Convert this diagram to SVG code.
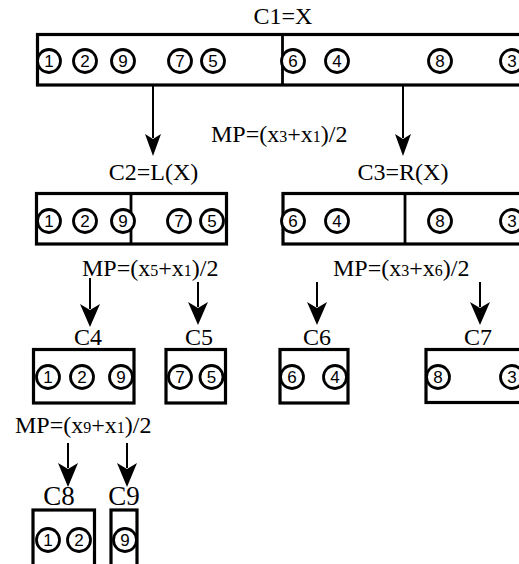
<svg xmlns="http://www.w3.org/2000/svg" width="519" height="564" viewBox="0 0 519 564">
<defs>
<style>
.box{fill:#fff;stroke:#000;stroke-width:3.2}
.div{stroke:#000;stroke-width:2.8}
.c{fill:#fff;stroke:#000;stroke-width:2.8}
.n{font-family:"Liberation Sans","DejaVu Sans",sans-serif;font-size:17px;text-anchor:middle}
.t{font-family:"Liberation Serif","Times New Roman",serif;font-size:24px;fill:#000}
.b{font-size:27px}
.m{text-anchor:middle}
.s{font-size:16px}
.ar{stroke:#000;stroke-width:2;fill:none}
</style>
</defs>
<rect width="519" height="564" fill="#fff"/>

<g id="connectors">
<line class="ar" x1="153" y1="86" x2="153" y2="138"/><path d="M145,134 L153,139 L161,134 L153,156 Z"/>
<line class="ar" x1="403" y1="86" x2="403" y2="138"/><path d="M395,134 L403,139 L411,134 L403,156 Z"/>
<line class="ar" x1="90" y1="278" x2="90" y2="309"/><path d="M80,304 L90,310 L100,304 L90,327 Z"/>
<line class="ar" x1="198" y1="282" x2="198" y2="307"/><path d="M188,302 L198,308 L208,302 L198,325 Z"/>
<line class="ar" x1="317" y1="282" x2="317" y2="307"/><path d="M307,302 L317,308 L327,302 L317,325 Z"/>
<line class="ar" x1="480" y1="282" x2="480" y2="307"/><path d="M470,302 L480,308 L490,302 L480,325 Z"/>
<line class="ar" x1="68" y1="443" x2="68" y2="468"/><path d="M58,463 L68,469 L78,463 L68,487 Z"/>
<line class="ar" x1="127" y1="443" x2="127" y2="468"/><path d="M117,463 L127,469 L137,463 L127,487 Z"/>
</g>

<g id="labels">
<text class="t m" x="283" y="24">C1=X</text>
<text class="t" x="211" y="142">MP=(x<tspan class="s">3</tspan>+x<tspan class="s">1</tspan>)/2</text>
<text class="t m" x="153.5" y="180">C2=L(X)</text>
<text class="t m" x="403" y="180">C3=R(X)</text>
<text class="t" x="82" y="276">MP=(x<tspan class="s">5</tspan>+x<tspan class="s">1</tspan>)/2</text>
<text class="t" x="333" y="276">MP=(x<tspan class="s">3</tspan>+x<tspan class="s">6</tspan>)/2</text>
<text class="t" x="15" y="433">MP=(x<tspan class="s">9</tspan>+x<tspan class="s">1</tspan>)/2</text>
</g>

<g id="C1">
<rect class="box" x="37.5" y="34.5" width="500" height="50.5"/>
<line class="div" x1="282.5" y1="34.5" x2="282.5" y2="85"/>
<circle class="c" cx="49" cy="61" r="11.5"/><text class="n" x="49" y="67">1</text>
<circle class="c" cx="85" cy="61" r="11.5"/><text class="n" x="85" y="67">2</text>
<circle class="c" cx="123" cy="61" r="11.5"/><text class="n" x="123" y="67">9</text>
<circle class="c" cx="180" cy="61" r="11.5"/><text class="n" x="180" y="67">7</text>
<circle class="c" cx="213" cy="61" r="11.5"/><text class="n" x="213" y="67">5</text>
<circle class="c" cx="293" cy="61" r="11.5"/><text class="n" x="293" y="67">6</text>
<circle class="c" cx="337" cy="61" r="11.5"/><text class="n" x="337" y="67">4</text>
<circle class="c" cx="440" cy="61" r="11.5"/><text class="n" x="440" y="67">8</text>
<circle class="c" cx="512" cy="61" r="11.5"/><text class="n" x="512" y="67">3</text>
</g>

<g id="C2">
<rect class="box" x="36.5" y="193.5" width="190" height="50.5"/>
<line class="div" x1="131" y1="193.5" x2="131" y2="244"/>
<circle class="c" cx="49" cy="221" r="11.5"/><text class="n" x="49" y="227">1</text>
<circle class="c" cx="85" cy="221" r="11.5"/><text class="n" x="85" y="227">2</text>
<circle class="c" cx="123" cy="221" r="11.5"/><text class="n" x="123" y="227">9</text>
<circle class="c" cx="179" cy="221" r="11.5"/><text class="n" x="179" y="227">7</text>
<circle class="c" cx="212" cy="221" r="11.5"/><text class="n" x="212" y="227">5</text>
</g>

<g id="C3">
<rect class="box" x="283" y="193.5" width="250" height="50.5"/>
<line class="div" x1="405" y1="193.5" x2="405" y2="244"/>
<circle class="c" cx="293" cy="221" r="11.5"/><text class="n" x="293" y="227">6</text>
<circle class="c" cx="337" cy="221" r="11.5"/><text class="n" x="337" y="227">4</text>
<circle class="c" cx="440" cy="221" r="11.5"/><text class="n" x="440" y="227">8</text>
<circle class="c" cx="512" cy="221" r="11.5"/><text class="n" x="512" y="227">3</text>
</g>

<g id="C4">
<text class="t m" x="88" y="345">C4</text>
<rect class="box" x="33.5" y="349.5" width="100.5" height="53.5"/>
<circle class="c" cx="48" cy="377" r="11.5"/><text class="n" x="48" y="383">1</text>
<circle class="c" cx="82" cy="377" r="11.5"/><text class="n" x="82" y="383">2</text>
<circle class="c" cx="121" cy="377" r="11.5"/><text class="n" x="121" y="383">9</text>
</g>

<g id="C5">
<text class="t m" x="199" y="345">C5</text>
<rect class="box" x="166" y="349.5" width="59.5" height="53.5"/>
<circle class="c" cx="180" cy="377" r="11.5"/><text class="n" x="180" y="383">7</text>
<circle class="c" cx="211.5" cy="377" r="11.5"/><text class="n" x="211.5" y="383">5</text>
</g>

<g id="C6">
<text class="t m" x="317" y="345">C6</text>
<rect class="box" x="280" y="349.5" width="68" height="53.5"/>
<circle class="c" cx="292" cy="377" r="11.5"/><text class="n" x="292" y="383">6</text>
<circle class="c" cx="335" cy="377" r="11.5"/><text class="n" x="335" y="383">4</text>
</g>

<g id="C7">
<text class="t m" x="478" y="345">C7</text>
<rect class="box" x="426" y="349.5" width="120" height="53"/>
<circle class="c" cx="438" cy="377" r="11.5"/><text class="n" x="438" y="383">8</text>
<circle class="c" cx="512" cy="377" r="11.5"/><text class="n" x="512" y="383">3</text>
</g>

<g id="C8">
<text class="t b m" x="59" y="505">C8</text>
<rect class="box" x="33" y="510" width="61.5" height="56"/>
<circle class="c" cx="48" cy="540" r="11.5"/><text class="n" x="48" y="546">1</text>
<circle class="c" cx="79" cy="540" r="11.5"/><text class="n" x="79" y="546">2</text>
</g>

<g id="C9">
<text class="t b m" x="124" y="505">C9</text>
<rect class="box" x="111" y="510" width="26" height="56"/>
<circle class="c" cx="125" cy="540" r="11.5"/><text class="n" x="125" y="546">9</text>
</g>
</svg>
